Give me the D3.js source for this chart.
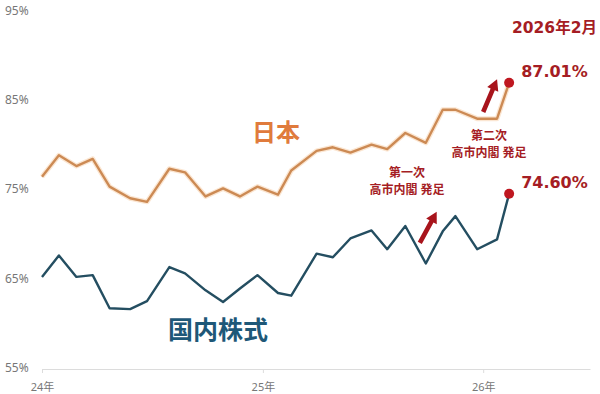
<!DOCTYPE html>
<html lang="ja">
<head>
    <meta charset="UTF-8">
    <title>日本・国内株式</title>
    <style>
        body { margin: 0; background: #fff; }
        svg { display: block; }
    </style>
</head>
<body>
<div id="chart"></div>
<script src="https://cdn.jsdelivr.net/npm/d3@7"></script>
<script>
    // data (survey dates, % values)
    const dates = [
        "2024-01-01", "2024-01-29", "2024-02-27", "2024-03-25", "2024-04-22", "2024-05-26",
        "2024-06-23", "2024-07-30", "2024-08-25", "2024-09-28", "2024-10-27", "2024-11-24",
        "2024-12-23", "2025-01-26", "2025-02-17", "2025-03-31", "2025-04-27", "2025-05-26",
        "2025-06-30", "2025-07-26", "2025-08-25", "2025-09-28", "2025-10-26", "2025-11-16",
        "2025-12-22", "2026-01-24", "2026-02-13"
    ];
    const japan = [
        76.5, 78.9, 77.7, 78.5, 75.4, 74.1, 73.7, 77.4, 77.0, 74.3, 75.2, 74.3,
        75.4, 74.5, 77.2, 79.4, 79.8, 79.2, 80.1, 79.6, 81.4, 80.3, 84.0, 84.0,
        83.0, 83.0, 87.01
    ];
    const stocks = [
        65.3, 67.7, 65.3, 65.5, 61.8, 61.7, 62.6, 66.4, 65.7, 63.8, 62.5, 64.0,
        65.5, 63.5, 63.2, 67.9, 67.5, 69.6, 70.5, 68.4, 71.0, 66.8, 70.4, 72.1,
        68.4, 69.5, 74.60
    ];
    const yTicks = [55, 65, 75, 85, 95];
    const xTicks = ["2024-01-01", "2025-01-01", "2026-01-01"];

    // arrows: [date, value] from -> to
    const arrows = [
        {"from": ["2025-09-18", 69.1], "to": ["2025-10-16", 72.6]},
        {"from": ["2026-01-01", 83.75], "to": ["2026-01-24", 87.4]}
    ];

    const width = 600,
        height = 394;
    const parse = d3.timeParse("%Y-%m-%d");
    const red = "#a51d24";

    const x = d3.scaleTime()
        .domain([parse("2024-01-01"), parse("2026-06-27")])
        .range([42, 590]);
    const y = d3.scaleLinear().domain([55, 95]).range([369, 11.4]);

    const svg = d3.select("#chart")
        .append("svg")
        .attr("width", width)
        .attr("height", height)
        .style("font-family", "'Noto Sans', 'Noto Sans CJK JP', sans-serif");

    // y labels
    svg.append("g")
        .call(d3.axisRight(y).tickValues(yTicks).tickSize(0).tickPadding(5).tickFormat(d => d + "%"))
        .call(g => g.select(".domain").remove())
        .call(g => g.selectAll("text")
            .attr("dy", "0.22em")
            .style("font-family", "'Noto Sans', sans-serif")
            .style("font-size", "12px")
            .style("fill", "#777"));

    // x axis
    svg.append("g")
        .attr("transform", `translate(0,${y(55)})`)
        .call(d3.axisBottom(x)
            .tickValues(xTicks.map(parse))
            .tickSizeInner(4)
            .tickSizeOuter(0)
            .tickPadding(10)
            .tickFormat(d3.timeFormat("%y年")))
        .call(g => g.select(".domain").attr("stroke", "#dcdcdc"))
        .call(g => g.selectAll(".tick line").attr("stroke", "#dcdcdc"))
        .call(g => g.selectAll("text")
            .style("font-family", "'Noto Sans', 'Noto Sans CJK JP', sans-serif")
            .style("font-size", "11px")
            .style("fill", "#777"));

    const line = vals => d3.line()
        .x((d, i) => x(parse(dates[i])))
        .y(d => y(d))(vals);

    svg.append("path")
        .attr("d", line(japan))
        .attr("fill", "none")
        .attr("stroke", "#fbe6d2")
        .attr("stroke-width", 5)
        .attr("stroke-linejoin", "round");
    svg.append("path")
        .attr("d", line(japan))
        .attr("fill", "none")
        .attr("stroke", "#cc8a54")
        .attr("stroke-width", 2.4)
        .attr("stroke-linejoin", "round");
    svg.append("path")
        .attr("d", line(stocks))
        .attr("fill", "none")
        .attr("stroke", "#244e61")
        .attr("stroke-width", 2.4)
        .attr("stroke-linejoin", "round");

    // end points
    const last = dates.length - 1;
    svg.selectAll("circle.end")
        .data([japan[last], stocks[last]])
        .join("circle")
        .attr("class", "end")
        .attr("cx", x(parse(dates[last])))
        .attr("cy", d => y(d))
        .attr("r", 5)
        .attr("fill", "#bf1720");

    svg.selectAll("text.endval")
        .data([japan[last], stocks[last]])
        .join("text")
        .attr("class", "endval")
        .attr("x", x(parse(dates[last])) + 12)
        .attr("y", d => y(d) - 6)
        .style("font-family", "'DejaVu Sans', sans-serif")
        .style("font-weight", "bold")
        .style("font-size", "16px")
        .style("fill", red)
        .text(d => d.toFixed(2) + "%");

    svg.append("text")
        .attr("x", 512)
        .attr("y", 33)
        .style("font-family", "'DejaVu Sans', 'Noto Sans CJK JP', sans-serif")
        .style("font-weight", "bold")
        .style("font-size", "15.5px")
        .style("fill", red)
        .text("2026年2月");

    // arrows
    function arrowPath(a) {
        const x1 = x(parse(a.from[0])), y1 = y(a.from[1]);
        const x2 = x(parse(a.to[0])), y2 = y(a.to[1]);
        const len = Math.hypot(x2 - x1, y2 - y1);
        const ux = (x2 - x1) / len, uy = (y2 - y1) / len;
        const px = -uy, py = ux;
        const hw = 2.3, hh = 6, hl = 11;
        const bx = x2 - ux * hl, by = y2 - uy * hl;
        const pts = [
            [x1 + px * hw, y1 + py * hw],
            [bx + px * hw, by + py * hw],
            [bx + px * hh, by + py * hh],
            [x2, y2],
            [bx - px * hh, by - py * hh],
            [bx - px * hw, by - py * hw],
            [x1 - px * hw, y1 - py * hw]
        ];
        return "M" + pts.map(p => p.join(",")).join("L") + "Z";
    }
    svg.selectAll("path.arrow")
        .data(arrows)
        .join("path")
        .attr("class", "arrow")
        .attr("d", arrowPath)
        .attr("fill", "#a8141c");

    // annotation text, two lines each
    const notes = [
        {"x": 407, "y": 177, "lines": ["第一次", "高市内閣 発足"]},
        {"x": 489, "y": 140, "lines": ["第二次", "高市内閣 発足"]}
    ];
    svg.selectAll("text.note")
        .data(notes)
        .join("text")
        .attr("class", "note")
        .attr("text-anchor", "middle")
        .attr("x", d => d.x)
        .attr("y", d => d.y)
        .style("font-family", "'Noto Sans', 'Noto Sans CJK JP', sans-serif")
        .style("font-weight", "bold")
        .style("font-size", "12px")
        .style("fill", red)
        .each(function(d) {
            d3.select(this).selectAll("tspan")
                .data(d.lines)
                .join("tspan")
                .attr("x", d.x)
                .attr("dy", (t, i) => i ? 16.5 : 0)
                .text(t => t);
        });

    // series labels
    svg.append("text")
        .attr("x", 276)
        .attr("y", 141)
        .attr("text-anchor", "middle")
        .style("font-family", "'Noto Sans CJK JP', sans-serif")
        .style("font-weight", "bold")
        .style("font-size", "24px")
        .style("fill", "#e07b3c")
        .text("日本");
    svg.append("text")
        .attr("x", 218)
        .attr("y", 339)
        .attr("text-anchor", "middle")
        .style("font-family", "'Noto Sans CJK JP', sans-serif")
        .style("font-weight", "bold")
        .style("font-size", "25px")
        .style("fill", "#1e5878")
        .text("国内株式");
</script>
</body>
</html>
